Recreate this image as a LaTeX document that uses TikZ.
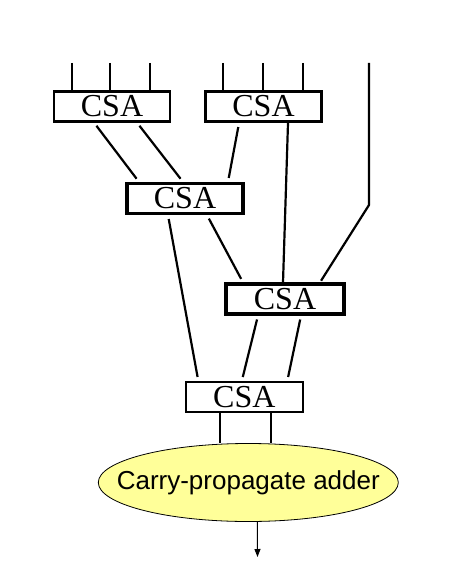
\documentclass[tikz,border=0pt]{standalone}
\usepackage{fontspec}
\setmainfont{Liberation Serif}
\newfontfamily\cpafont{Liberation Sans}
\usetikzlibrary{shapes.geometric, arrows.meta}
\tikzset{
    csa/.style={rectangle, draw, fill=white, minimum width=116pt,
        minimum height=30pt, inner sep=0pt, line width=2.2pt,
        font=\fontsize{32}{32}\selectfont},
    thick csa/.style={csa, line width=3.2pt},
    wire/.style={line width=2.2pt},
    gap/.style={shorten <=4pt, shorten >=4pt}
}
\definecolor{cpayellow}{RGB}{255,255,153}

\begin{document}
\begin{tikzpicture}[x=1pt, y=-1pt]
  \useasboundingbox (0,0) rectangle (455,580);
  \node (A) [csa] at (112, 106.5) {CSA};
  \node (B) [thick csa] at (263.5, 106.5) {CSA};
  \node (C) [thick csa] at (185, 198.5) {CSA};
  \node (D) [thick csa, minimum width=118pt] at (285, 299) {CSA};
  \node (E) [csa, minimum width=117pt] at (244.3, 397) {CSA};
  \node (cpa) [ellipse, draw, fill=cpayellow, minimum width=300pt,
    minimum height=78pt, inner xsep=-26pt, inner ysep=0pt, line width=0.8pt,
    font=\cpafont\fontsize{26}{26}\selectfont] at (248.3, 482.5)
    {Carry-propagate adder};

  % inputs
  \coordinate (a_in1) at (72, 63);
  \coordinate (a_in2) at (110, 63);
  \coordinate (a_in3) at (150, 63);
  \coordinate (b_in1) at (223, 63);
  \coordinate (b_in2) at (263, 63);
  \coordinate (b_in3) at (303, 63);
  \coordinate (r_in) at (369, 63);
  \coordinate (r_bend) at (369, 205);
  \coordinate (out) at (257.5, 557);

  \draw [wire] (a_in1) -- (a_in1 |- A.north);
  \draw [wire] (a_in2) -- (a_in2 |- A.north);
  \draw [wire] (a_in3) -- (a_in3 |- A.north);
  \draw [wire] (b_in1) -- (b_in1 |- B.north);
  \draw [wire] (b_in2) -- (b_in2 |- B.north);
  \draw [wire] (b_in3) -- (b_in3 |- B.north);

  % tree
  \draw [wire, gap] ([xshift=-18pt]A.south) -- ([xshift=-46pt]C.north);
  \draw [wire, gap] ([xshift=25pt]A.south) -- ([xshift=-2pt]C.north);
  \draw [wire, gap] ([xshift=-24.5pt]B.south) -- ([xshift=43pt]C.north);
  \draw [wire] ([xshift=24.5pt]B.south) -- ([xshift=-2pt]D.north);
  \draw [wire, shorten >=2pt] (r_in) -- (r_bend) -- ([xshift=35pt]D.north);
  \draw [wire, gap] ([xshift=-17pt]C.south) -- ([xshift=-46pt]E.north);
  \draw [wire, gap] ([xshift=22pt]C.south) -- ([xshift=-42pt]D.north);
  \draw [wire, gap] ([xshift=-27pt]D.south) -- ([xshift=-2.5pt]E.north);
  \draw [wire, gap] ([xshift=16pt]D.south) -- ([xshift=43pt]E.north);

  % to the adder
  \draw [wire] ([xshift=-24pt]E.south) -- ([xshift=-24pt]E.south |- cpa.north);
  \draw [wire] ([xshift=27pt]E.south) -- ([xshift=27pt]E.south |- cpa.north);
  \draw [line width=1pt, -{Triangle[length=8pt, width=6pt]}]
    ([xshift=9pt]cpa.south) -- (out);
\end{tikzpicture}
\end{document}
